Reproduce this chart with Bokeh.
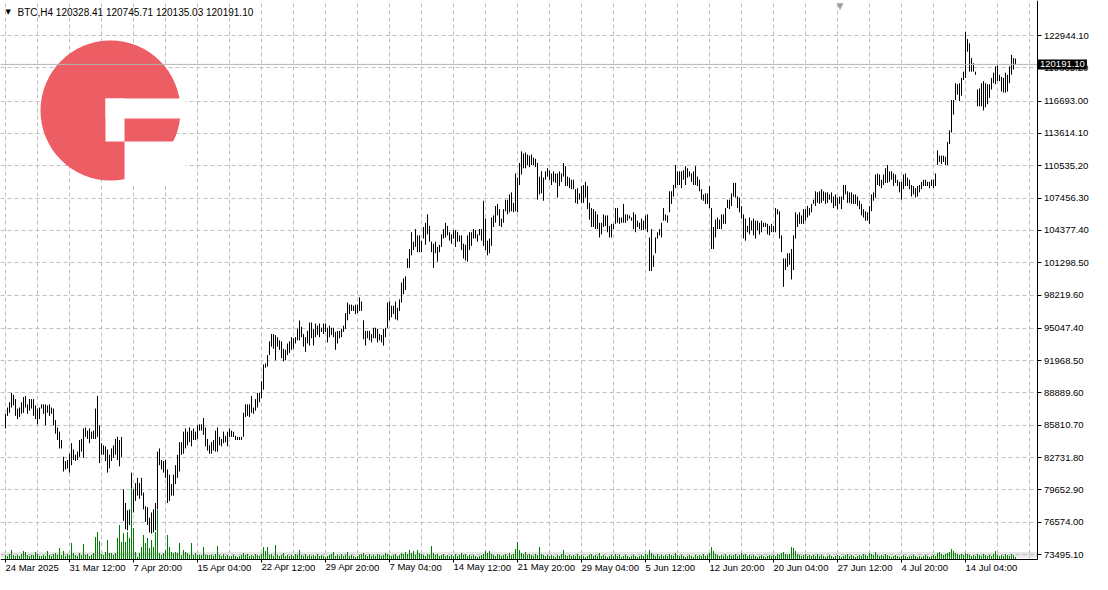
from bokeh.plotting import figure
from bokeh.models import FixedTicker, Range1d, Label, CustomJSTickFormatter
from bokeh.embed import file_html
from bokeh.resources import INLINE

# ---------------- data (BTC, H4; prices in thousand USD) ----------------
HIGH_K = [
    86.9, 87.5, 88.0, 88.9, 88.7, 88.3, 87.4, 87.5, 88.0, 88.5,
    88.6, 87.8, 88.3, 88.3, 88.3, 87.7, 87.4, 87.5, 87.8, 87.8,
    87.8, 87.7, 87.8, 87.5, 87.4, 86.3, 85.6, 85.2, 84.4, 82.8,
    82.4, 82.5, 83.1, 84.1, 83.5, 83.0, 83.3, 84.4, 84.5, 85.5,
    85.6, 85.3, 85.5, 85.2, 85.3, 87.4, 88.6, 85.8, 84.1, 83.9,
    83.8, 83.5, 83.0, 83.6, 83.9, 84.5, 84.7, 84.4, 84.7, 79.7,
    78.4, 77.7, 77.8, 81.3, 79.7, 80.3, 80.8, 80.3, 80.8, 79.4,
    78.1, 78.0, 77.0, 77.5, 77.8, 78.4, 83.3, 83.6, 82.5, 82.4,
    82.5, 81.6, 81.1, 80.2, 81.1, 82.0, 83.0, 84.2, 84.2, 85.2,
    85.5, 85.2, 85.6, 85.3, 85.5, 85.2, 85.8, 85.9, 85.9, 86.5,
    85.6, 84.5, 83.9,
    84.2, 84.4, 85.3, 85.6, 84.7, 84.5, 85.2, 84.8, 85.2, 85.5,
    85.3, 85.2, 84.8, 84.7, 84.7, 84.7, 87.0, 87.8, 87.8, 87.8,
    88.6, 87.5, 88.3, 88.9, 88.9, 90.0, 91.6, 91.7, 92.5, 93.8,
    94.5, 94.5, 94.4, 94.2, 93.9, 93.8, 93.1, 93.0, 93.6, 93.8,
    94.2, 94.1, 94.2, 95.0, 95.8, 95.2, 94.5, 94.2, 94.8, 95.6,
    95.6, 95.0,
    95.5, 95.3, 95.5, 95.1, 95.5, 95.5, 95.1, 95.3, 95.1, 95.1,
    94.7, 94.8, 94.8, 95.0, 95.3, 96.5, 97.5, 97.3, 97.3, 97.2,
    97.3, 97.3, 98.0, 97.6, 95.8, 94.8, 94.8, 94.8, 94.5, 95.1,
    95.1, 95.0, 94.5, 94.4, 95.0, 95.1, 97.5, 97.6, 97.2, 97.2,
    97.6, 97.0, 97.8, 99.4, 99.8, 100.0, 101.7, 102.6, 104.2, 103.3,
    104.5, 103.9, 103.9,
    103.4, 104.7, 105.1, 105.9, 104.8, 103.3, 103.1, 103.3, 102.8, 103.0,
    104.0, 104.5, 105.1, 104.8, 104.2, 104.0, 104.4, 104.4, 104.2, 103.9,
    103.9, 103.1, 103.0, 103.9, 104.2, 104.2, 104.5, 104.4, 104.0, 104.5,
    104.5, 107.2, 105.5, 103.4, 103.6, 105.6, 105.8, 106.7, 106.9, 106.4,
    105.5, 106.4, 107.3, 107.3, 107.8, 108.0, 107.0, 109.8, 109.4, 110.8,
    111.9, 111.7,
    111.8, 111.6, 111.5, 111.6, 111.3, 111.2, 110.8, 109.5, 110.0, 109.4,
    110.0, 110.3, 110.1, 109.8, 110.0, 109.8, 109.8, 110.0, 109.8, 110.8,
    110.5, 109.5, 109.4, 109.2, 109.2, 108.3, 108.4, 107.9, 108.6, 108.7,
    109.0, 108.6, 107.0, 106.5, 106.4, 106.2, 105.9, 105.1, 105.1, 105.9,
    105.8, 105.8, 104.8, 105.0, 105.0, 106.5, 106.5, 105.6, 105.6, 106.9,
    105.9, 105.9, 105.8,
    105.6, 106.1, 105.9, 105.3, 105.1, 105.5, 105.3, 105.8, 105.9, 103.7,
    104.5, 102.0, 103.7, 104.2, 104.5, 105.1, 106.5, 105.9, 105.8, 108.1,
    108.1, 108.7, 110.6, 110.0, 110.0, 110.0, 110.1, 110.5, 110.3, 110.0,
    109.8, 110.0, 110.5, 109.5, 109.2, 108.3, 107.8, 107.9, 107.9, 108.6,
    106.5, 104.7, 105.4, 105.6, 105.4, 105.9, 105.9, 106.5, 107.3, 107.3,
    107.9, 108.9,
    108.9, 107.6, 107.5, 106.7, 105.9, 105.5, 104.8, 105.6, 105.3, 105.5,
    105.3, 105.3, 105.1, 105.3, 105.1, 105.1, 105.0, 104.8, 105.0, 104.8,
    106.5, 106.4, 106.2, 103.9, 101.7, 101.7, 102.2, 102.2, 102.6, 103.9,
    106.1, 105.9, 106.1, 105.8, 106.4, 106.4, 106.7, 106.5, 106.9, 107.3,
    108.1, 108.0, 108.1, 108.3, 108.1, 108.0, 108.0, 107.8, 108.0, 107.6,
    107.8, 107.5, 107.6,
    107.6, 108.7, 108.7, 108.1, 108.0, 108.0, 107.8, 107.8, 107.6, 107.2,
    106.9, 106.4, 106.2, 106.1, 106.7, 107.8, 108.0, 109.7, 109.8, 109.7,
    109.2, 109.7, 110.3, 110.6, 110.0, 110.0, 109.8, 109.7, 109.2, 109.0,
    109.0, 109.7, 109.8, 109.4, 109.2, 108.7, 108.6, 108.4, 108.6, 108.7,
    109.0, 109.2, 109.2, 109.0, 109.0, 109.2, 109.2, 109.8,
    112.0, 111.5, 111.5, 111.5, 111.4, 112.8, 113.9, 116.8, 116.8, 118.4,
    118.3, 118.4, 118.9, 119.5, 123.3, 122.6, 122.2, 120.8, 120.3, 119.5,
    117.8, 117.9, 118.4, 118.6, 118.4, 118.3, 118.3, 118.9, 119.4, 120.0,
    120.1, 119.2, 119.0, 118.9, 119.4, 119.2, 120.0, 121.1, 120.8, 120.75,
]

LOW_K = [
    85.5, 86.7, 87.0, 87.5, 87.7, 86.7, 86.4, 86.6, 86.9, 87.0,
    87.5, 86.9, 87.2, 87.4, 86.7, 86.4, 85.9, 86.4, 87.4, 86.9,
    85.8, 87.0, 86.7, 86.9, 85.8, 85.0, 84.4, 83.6, 83.6, 81.4,
    81.6, 81.7, 81.3, 82.0, 82.5, 82.4, 82.5, 82.8, 83.3, 82.7,
    84.7, 84.5, 84.1, 84.5, 84.5, 84.5, 84.7, 82.2, 83.0, 83.0,
    82.4, 81.3, 81.7, 82.4, 82.7, 83.0, 82.5, 81.9, 82.8, 76.7,
    75.9, 75.8, 76.3, 77.5, 77.5, 78.6, 79.1, 78.8, 79.1, 77.8,
    76.6, 76.3, 75.6, 75.5, 75.6, 75.8, 77.8, 82.0, 81.6, 81.3,
    80.8, 78.4, 78.6, 79.1, 79.1, 80.2, 80.8, 81.4, 83.0, 83.1,
    83.6, 83.9, 84.2, 83.8, 84.4, 84.4, 84.5, 85.3, 85.3, 84.9,
    83.8, 83.4, 83.1,
    83.1, 83.4, 83.3, 83.3, 83.9, 83.8, 84.1, 84.2, 83.8, 84.7,
    84.7, 84.7, 84.4, 84.4, 84.4, 84.4, 84.7, 86.6, 86.7, 86.6,
    87.0, 86.9, 87.2, 87.5, 88.0, 88.4, 89.2, 91.3, 91.4, 92.5,
    93.3, 93.1, 92.0, 93.3, 93.0, 92.2, 91.9, 92.0, 92.5, 92.7,
    93.0, 93.1, 93.6, 93.9, 93.9, 94.2, 93.3, 92.8, 93.6, 93.4,
    94.1, 93.4,
    94.2, 94.4, 94.2, 94.7, 94.5, 94.7, 93.7, 94.2, 94.4, 94.2,
    93.0, 93.6, 94.1, 94.2, 94.7, 95.0, 95.8, 96.4, 96.7, 96.7,
    96.4, 96.5, 96.7, 96.7, 94.0, 93.4, 94.1, 93.9, 93.7, 94.1,
    94.1, 93.7, 93.9, 93.7, 93.4, 94.2, 95.1, 95.8, 96.1, 96.4,
    95.9, 95.8, 96.7, 97.5, 98.3, 98.7, 100.8, 100.8, 102.0, 102.5,
    102.8, 102.3, 102.3,
    102.3, 103.6, 103.0, 104.0, 103.3, 102.3, 100.8, 102.2, 101.4, 102.3,
    102.8, 103.6, 103.7, 103.9, 103.4, 103.1, 103.6, 102.8, 103.3, 103.3,
    102.5, 101.7, 101.5, 101.4, 102.5, 102.9, 103.6, 103.6, 103.3, 103.9,
    103.4, 102.9, 102.5, 102.0, 102.2, 102.9, 104.7, 105.1, 105.8, 104.8,
    104.7, 105.1, 106.2, 105.9, 106.1, 106.2, 106.1, 106.2, 106.1, 108.7,
    109.7, 110.3,
    110.3, 110.6, 110.4, 110.6, 110.6, 110.4, 107.3, 107.8, 107.9, 107.2,
    109.2, 109.5, 109.2, 108.7, 109.0, 108.9, 107.5, 108.6, 109.0, 109.5,
    108.6, 108.6, 108.4, 108.3, 108.3, 107.0, 106.9, 107.3, 107.0, 107.0,
    107.5, 106.4, 105.4, 104.7, 104.7, 104.5, 104.5, 103.7, 104.0, 104.7,
    104.8, 104.2, 103.7, 103.7, 104.5, 105.0, 105.1, 105.0, 105.1, 105.1,
    105.1, 105.3, 105.5,
    105.3, 104.5, 104.2, 104.7, 104.5, 104.4, 104.4, 104.5, 104.2, 100.5,
    100.5, 100.9, 102.2, 103.6, 103.9, 103.7, 105.3, 105.3, 105.1, 106.1,
    106.9, 107.6, 108.4, 108.7, 108.7, 108.4, 109.2, 108.7, 109.4, 109.5,
    109.0, 108.7, 108.7, 108.6, 108.1, 107.3, 107.2, 106.9, 106.9, 106.5,
    102.6, 102.6, 103.7, 104.5, 104.5, 104.5, 105.0, 105.0, 106.5, 106.4,
    106.7, 107.6,
    107.5, 106.5, 106.1, 105.5, 103.6, 103.4, 104.2, 104.0, 104.4, 103.9,
    103.6, 104.4, 104.0, 104.2, 104.7, 104.7, 104.0, 103.9, 104.2, 104.2,
    104.2, 105.9, 103.6, 102.3, 99.0, 100.6, 100.9, 101.1, 99.7, 100.6,
    103.6, 104.7, 105.0, 105.0, 105.0, 105.3, 105.6, 105.8, 106.1, 106.9,
    106.7, 107.0, 106.9, 107.0, 107.2, 106.9, 107.0, 107.3, 107.0, 106.5,
    106.7, 106.4, 106.9,
    106.4, 107.3, 107.8, 107.0, 107.0, 106.9, 106.9, 106.9, 106.7, 106.4,
    105.8, 105.6, 105.3, 105.3, 105.0, 106.2, 107.2, 107.5, 108.7, 108.6,
    108.4, 108.7, 108.9, 108.9, 109.0, 109.2, 108.6, 108.9, 108.6, 108.0,
    107.3, 108.3, 108.6, 108.6, 108.3, 107.6, 107.8, 107.5, 107.6, 108.0,
    108.3, 108.6, 108.6, 108.6, 108.4, 108.6, 108.4, 108.6,
    110.6, 110.9, 110.7, 110.9, 110.6, 110.6, 112.6, 113.7, 115.4, 116.8,
    117.3, 116.7, 117.2, 118.7, 118.9, 121.4, 119.5, 119.5, 119.5, 119.2,
    116.2, 116.2, 116.2, 115.8, 116.1, 116.4, 117.0, 117.8, 118.4, 118.3,
    118.6, 118.6, 117.6, 117.5, 117.5, 117.6, 118.4, 119.2, 119.7, 120.14,
]

# tick volume (thousand ticks, relative)
VOLUME_K = [
    4, 3, 5, 9, 4, 3, 4, 3, 5, 8, 7, 4, 3, 4, 4, 7, 5, 3, 3, 4,
    3, 8, 4, 3, 5, 6, 4, 11, 4, 8, 3, 5, 4, 16, 6, 4, 3, 6, 4, 15,
    4, 5, 3, 4, 6, 22, 27, 18, 5, 4,
    7, 19, 6, 6, 4, 6, 21, 34, 17, 26, 17, 27, 21, 71, 31, 7, 2, 6, 12, 24,
    16, 21, 11, 19, 12, 27, 49, 6, 4, 6, 9, 24, 12, 7, 6, 7, 6, 16, 4, 9,
    7, 6, 4, 16, 4, 6, 4, 4, 4, 12, 4, 4, 4,
    4, 3, 5, 13, 4, 3, 5, 3, 4, 3, 3, 4, 3, 2, 3, 4, 6, 4, 5, 3,
    4, 3, 5, 4, 3, 5, 12, 8, 12, 4, 5, 3, 14, 4, 3, 4, 6, 3, 4, 3,
    4, 3, 5, 4, 9, 4, 3, 5, 3, 4, 3, 4, 3, 5, 3, 4, 3, 2, 3, 4,
    5, 7, 3, 4, 3, 5, 3, 4, 7, 3, 4, 3, 2, 3, 4, 5, 6, 4, 3, 5,
    3, 4, 3, 5, 4, 3, 4, 6, 5, 4, 3, 4, 5, 3, 4, 6, 5, 7, 5, 9,
    6, 8, 4, 9, 6, 5, 4, 3, 5, 4, 13, 6, 4, 5, 3, 4, 5, 3, 4, 3,
    4, 3, 5, 3, 4, 6, 4, 5, 3, 4, 3, 4, 3, 2, 3, 4, 5, 8, 6, 8,
    5, 4, 3, 5, 4, 3, 4, 5, 3, 6, 4, 5, 10, 17, 9, 6, 5, 7, 4, 5,
    4, 3, 5, 4, 12, 5, 4, 3, 4, 3, 4, 3, 2, 4, 3, 5, 9, 4, 3, 4,
    3, 4, 3, 5, 3, 4, 3, 2, 3, 4, 5, 3, 4, 3, 6, 3, 4, 3, 2, 3,
    4, 3, 5, 3, 4, 2, 3, 4, 3, 2, 3, 4, 3, 2, 3, 4, 3, 5, 4, 9,
    6, 4, 3, 5, 3, 4, 3, 4, 3, 5, 4, 3, 6, 4, 3, 4, 3, 2, 3, 4,
    3, 2, 4, 3, 4, 3, 5, 3, 4, 6, 12, 8, 5, 4, 3, 4, 3, 5, 3, 4,
    3, 4, 5, 3, 4, 6, 4, 5, 3, 4, 3, 4, 3, 2, 3, 4, 3, 2, 3, 4,
    3, 4, 3, 5, 4, 6, 7, 5, 4, 5, 12, 11, 8, 5, 4, 3, 4, 5, 3, 4,
    3, 4, 3, 5, 3, 4, 3, 2, 3, 4, 3, 2, 3, 4, 3, 2, 3, 4, 5, 3,
    4, 3, 2, 3, 4, 3, 5, 4, 3, 6, 5, 4, 7, 4, 3, 4, 3, 5, 4, 3,
    2, 3, 4, 3, 2, 3, 4, 3, 2, 3, 3, 4, 3, 2, 3, 2, 3, 4, 3, 2,
    3, 4, 3, 6, 7, 5, 4, 5, 6, 7, 10, 8, 6, 5, 4, 5, 4, 6, 5, 4,
    3, 4, 3, 5, 4, 3, 5, 4, 3, 4, 3, 5, 8, 4, 3, 4, 3, 5, 4, 3,
    5, 4, 2,
]

Y_TICKS = [122944.10, 119865.20, 116693.00, 113614.10, 110535.20, 107456.30,
           104377.40, 101298.50, 98219.60, 95047.40, 91968.50, 88889.60,
           85810.70, 82731.80, 79652.90, 76574.00, 73495.10]

X_TICK_LABELS = ["24 Mar 2025", "31 Mar 12:00", "7 Apr 20:00", "15 Apr 04:00",
                 "22 Apr 12:00", "29 Apr 20:00", "7 May 04:00", "14 May 12:00",
                 "21 May 20:00", "29 May 04:00", "5 Jun 12:00", "12 Jun 20:00",
                 "20 Jun 04:00", "27 Jun 12:00", "4 Jul 20:00", "14 Jul 04:00"]
BARS_PER_LABEL = 32

HEADER = "BTC,H4  120328.41 120745.71 120135.03 120191.10"
LAST_PRICE = 120191.10

# ---------------- geometry (terminal-like layout) ----------------
W, H = 1092, 574
PX_PER_BAR = 2.0
X0 = -2.5                       # bar i sits on pixel column 2*i + 5
X1 = X0 + W / PX_PER_BAR
PPP = (Y_TICKS[0] - Y_TICKS[-1]) / 519.0   # price per pixel
Y_TOP = Y_TICKS[0] + 35 * PPP
Y_BOT = Y_TOP - H * PPP
T_AXIS_PX = 558.5               # time-scale line


def lx(px):
    return X0 + px / PX_PER_BAR


def ly(py):
    return Y_TOP - py * PPP


X_AXIS = lx(1036.5)   # price-scale line
Y_AXIS = ly(T_AXIS_PX)

n = len(HIGH_K)
idx = list(range(n))
high = [v * 1000 for v in HIGH_K]
low = [v * 1000 for v in LOW_K]
zeros = [0] * n

FONT = "Liberation Sans"

p = figure(width=W, height=H, output_backend="svg", toolbar_location=None,
           x_range=Range1d(X0, X1), y_range=Range1d(Y_BOT, Y_TOP),
           y_axis_location="right",
           min_border_left=0, min_border_top=0, min_border_right=0,
           min_border_bottom=0, background_fill_color="white",
           border_fill_color="white")
p.extra_y_ranges = {"vol": Range1d(-(H - T_AXIS_PX), T_AXIS_PX)}
p.outline_line_color = None

# grids
p.xgrid.ticker = FixedTicker(ticks=list(range(0, 513, 16)))
for g in (p.xgrid, p.ygrid):
    g.grid_line_color = "#c0c0c0"
    g.grid_line_dash = "4 3"
    g.grid_line_width = 1

# x axis (time scale)
p.xaxis.fixed_location = Y_AXIS
p.xaxis.bounds = (X0, X_AXIS)
p.xaxis.ticker = FixedTicker(ticks=[k * BARS_PER_LABEL for k in range(len(X_TICK_LABELS))])
p.xaxis.major_label_overrides = {k * BARS_PER_LABEL: lab for k, lab in enumerate(X_TICK_LABELS)}
p.xaxis.major_label_orientation = -1e-6
p.xaxis.major_label_standoff = 5
p.xaxis.major_tick_out = 3
p.xaxis.major_tick_in = 0
p.xaxis.minor_tick_line_color = None
p.xaxis.axis_line_color = "black"
p.xaxis.major_tick_line_color = "black"
p.xaxis.major_label_text_font = FONT
p.xaxis.major_label_text_font_size = "9.5px"
p.xaxis.major_label_text_color = "black"

# y axis (price scale)
p.yaxis.fixed_location = X_AXIS
p.yaxis.bounds = (Y_AXIS, Y_TOP)
p.yaxis.ticker = FixedTicker(ticks=Y_TICKS)
p.yaxis.formatter = CustomJSTickFormatter(code="return tick.toFixed(2);")
p.yaxis.major_label_standoff = 3
p.yaxis.major_tick_out = 4
p.yaxis.major_tick_in = 0
p.yaxis.minor_tick_line_color = None
p.yaxis.axis_line_color = "black"
p.yaxis.major_tick_line_color = "black"
p.yaxis.major_label_text_font = FONT
p.yaxis.major_label_text_font_size = "9.5px"
p.yaxis.major_label_text_color = "black"

# light band along the bottom of the chart window
p.quad(left=[X0], right=[X_AXIS], top=[ly(T_AXIS_PX - 7)], bottom=[ly(T_AXIS_PX - 1.5)],
       fill_color="#e6e6e6", line_color=None, level="image")

# ---------------- logo (decoration, placed in pixel terms) ----------------
RED = "#ec5d64"
p.ellipse(x=[lx(110)], y=[ly(110)], width=[140 / PX_PER_BAR], height=[140 * PPP],
          fill_color=RED, line_color=None)
p.quad(left=[lx(105), lx(105), lx(124)], right=[lx(185), lx(124), lx(185)],
       top=[ly(98), ly(98), ly(141)], bottom=[ly(118), ly(141), ly(185)],
       fill_color="white", line_color=None)

# ---------------- price bars (high-low) & tick volume ----------------
p.segment(x0=idx, y0=low, x1=idx, y1=high, line_color="black", line_width=1)
p.segment(x0=idx, y0=zeros, x1=idx, y1=VOLUME_K, y_range_name="vol",
          line_color="#008000", line_width=1)

# bid line
p.segment(x0=[X0], y0=[LAST_PRICE], x1=[X_AXIS], y1=[LAST_PRICE],
          line_color="#b4b4b4", line_width=1)

# blank the scale areas (grid must stop at the scales)
p.quad(left=[X_AXIS], right=[X1 + 5], top=[Y_TOP + 1e4], bottom=[Y_BOT - 1e4],
       fill_color="white", line_color=None)
p.quad(left=[X0 - 5], right=[X_AXIS], top=[Y_AXIS], bottom=[Y_BOT - 1e4],
       fill_color="white", line_color=None)

# price tag on the scale
p.add_layout(Label(x=X_AXIS, y=LAST_PRICE, x_offset=1, text=f"{LAST_PRICE:.2f}",
                   text_color="white", background_fill_color="black",
                   text_font=FONT, text_font_size="9.5px", text_baseline="middle",
                   padding=2))

# header
p.add_layout(Label(x=lx(5), y=ly(7), text="\u25bc",
                   text_font="DejaVu Sans", text_font_size="7px",
                   text_baseline="top", text_color="black"))
p.add_layout(Label(x=lx(17), y=ly(6), text=HEADER,
                   text_font=FONT, text_font_size="10px",
                   text_baseline="top", text_color="black"))
# chart-shift marker
p.add_layout(Label(x=lx(836), y=ly(0), text="\u25bc",
                   text_font="DejaVu Sans", text_font_size="9px",
                   text_baseline="top", text_color="#a0a0a0"))

open("out.html", "w").write(file_html(p, INLINE))
